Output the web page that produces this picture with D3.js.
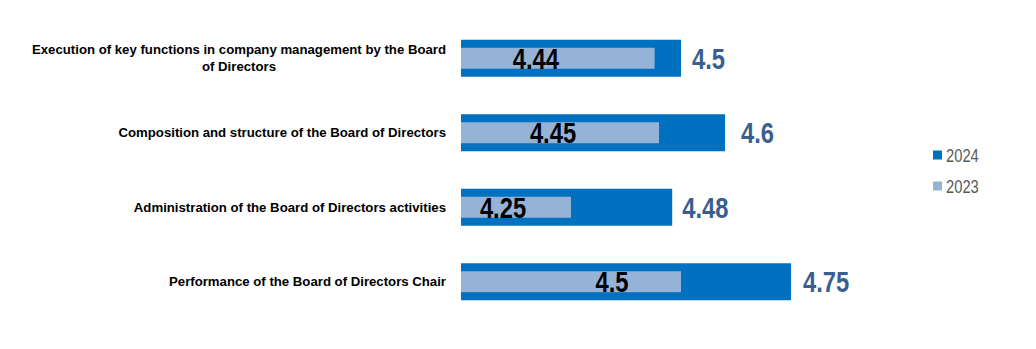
<!DOCTYPE html>
<html><head><meta charset="utf-8">
<script src="https://cdn.jsdelivr.net/npm/d3@7"></script>
<style>html,body{margin:0;padding:0;background:#fff;overflow:hidden}</style>
</head><body>
<svg id="c" width="1036" height="349"></svg>
<script>
const categories = [
  ["Execution of key functions in company management by the Board", "of Directors"],
  ["Composition and structure of the Board of Directors"],
  ["Administration of the Board of Directors activities"],
  ["Performance of the Board of Directors Chair"]
];
const values2024 = [4.5, 4.6, 4.48, 4.75];
const values2023 = [4.44, 4.45, 4.25, 4.5];
const seriesNames = ["2024", "2023"];
// label nudges (layout only)
const label2023Nudge = [-22, -7, -13, 41];
const label2024Gap = [11, 16, 10, 12];

const svg = d3.select("#c");
const x = d3.scaleLinear().domain([4, 5]).range([461, 901]);
const y = d3.scaleBand().domain(d3.range(categories.length)).range([21, 319]);
const c24 = "#0070C0", c23 = "#95B3D7";
const sans = "'Liberation Sans',Arial,sans-serif";
const SX = 0.82;

function narrowText(parent, px, py, txt, opts) {
  const gg = parent.append("g").attr("transform", `translate(${px},${py}) scale(${SX},1)`);
  return gg.append("text").attr("x", 0).attr("y", 0)
    .attr("text-anchor", opts.anchor || "start")
    .attr("font-family", sans).attr("font-weight", opts.weight || "normal")
    .attr("font-size", opts.size).attr("fill", opts.fill).text(txt);
}

const g = svg.append("g");
categories.forEach((lines, i) => {
  const cy = y(i) + y.bandwidth() / 2;
  g.append("rect").attr("x", x(4)).attr("y", cy - 18.5).attr("width", x(values2024[i]) - x(4)).attr("height", 37).attr("fill", c24);
  g.append("rect").attr("x", x(4)).attr("y", cy - 10.5).attr("width", x(values2023[i]) - x(4)).attr("height", 21).attr("fill", c23);
  narrowText(g, (x(4) + x(values2023[i])) / 2 + label2023Nudge[i], cy + 10.5, values2023[i],
    {anchor: "middle", weight: "bold", size: 29, fill: "#000"});
  narrowText(g, x(values2024[i]) + label2024Gap[i], cy + 10.5, values2024[i],
    {weight: "bold", size: 29, fill: "#3A5F8F"});
  // category label
  const t = g.append("text").attr("font-family", sans).attr("font-weight", "bold")
    .attr("font-size", 13.2).attr("fill", "#000");
  const lh = 17;
  const spans = lines.map((l, k) => t.append("tspan").attr("y", cy + 4.5 - (lines.length - 1) * lh / 2 + k * lh).text(l));
  const widths = spans.map(s => s.node().getComputedTextLength());
  const w = d3.max(widths);
  const right = 446;
  spans.forEach(s => s.attr("x", right - w / 2).attr("text-anchor", "middle"));
});

// legend
const leg = svg.append("g");
[[c24, seriesNames[0], 155], [c23, seriesNames[1], 186]].forEach(([col, name, ly]) => {
  leg.append("rect").attr("x", 933).attr("y", ly - 4.5).attr("width", 9).attr("height", 9).attr("fill", col);
  narrowText(leg, 946, ly + 6.5, name, {size: 18, fill: "#595959"});
});
</script>
</body></html>
